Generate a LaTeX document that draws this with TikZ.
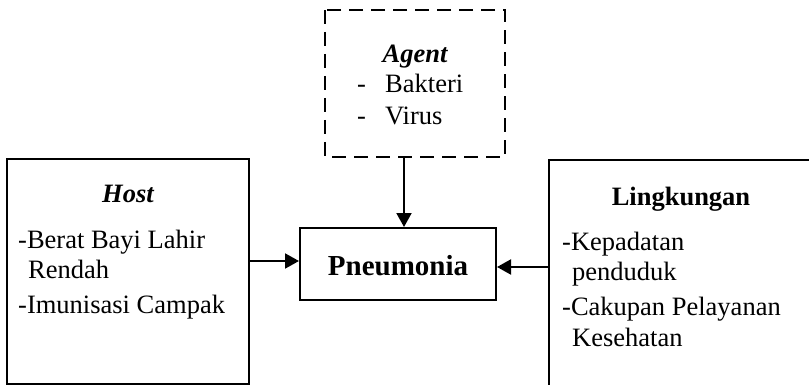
\documentclass[tikz,border=0pt]{standalone}
\usepackage{fontspec}
\setmainfont{Liberation Serif}
\usetikzlibrary{arrows.meta}
\begin{document}
\begin{tikzpicture}[x=1pt,y=-1pt,
  frame/.style={draw=black,line width=2pt,fill=white},
  dframe/.style={draw=black,line width=2pt,dash pattern=on 14pt off 8pt},
  arr/.style={line width=2pt,-{Triangle[length=14pt,width=15pt]}},
  txt/.style={inner sep=0pt,anchor=base west,font=\fontsize{26.5}{30}\selectfont},
  ttl/.style={inner sep=0pt,anchor=base,font=\fontsize{26.5}{30}\selectfont\bfseries},
]
\useasboundingbox (0,0) rectangle (809,385);
\clip (0,0) rectangle (809,385);
% boxes
\draw[frame] (7,159) rectangle (249,384);
\node[inner sep=0pt] (host) at (128,271.5) [minimum width=242pt,minimum height=225pt] {};
\draw[frame] (549,160) rectangle (830,400);
\node[inner sep=0pt] (ling) at (689.5,280) [minimum width=281pt,minimum height=240pt] {};
\draw[dframe] (325,10) rectangle (505,157);
\node[inner sep=0pt] (agent) at (415,83.5) [minimum width=180pt,minimum height=147pt] {};
\node[draw=black,line width=2pt,inner sep=0pt,minimum width=196pt,minimum height=72pt] (pn) at (398,264) {};
\node[inner sep=0pt,anchor=base,font=\fontsize{29}{32}\selectfont\bfseries] (pntext) at (398,275) {Pneumonia};
% host text
\node[ttl,font=\fontsize{26.5}{30}\selectfont\bfseries\itshape] (hosttitle) at (128,203) {Host};
\node[txt] (h1) at (18,248) {-Berat Bayi Lahir};
\node[txt] (h2) at (28,278) {Rendah};
\node[txt] (h3) at (18,313) {-Imunisasi Campak};
% lingkungan text
\node[ttl] (lingtitle) at (681,205) {Lingkungan};
\node[txt] (l1) at (562,250) {-Kepadatan};
\node[txt] (l2) at (572,280) {penduduk};
\node[txt] (l3) at (562,315) {-Cakupan Pelayanan};
\node[txt] (l4) at (572,346) {Kesehatan};
% agent text
\node[ttl,font=\fontsize{26.5}{30}\selectfont\bfseries\itshape] (agenttitle) at (415,63) {Agent};
\node[txt] (a1d) at (357,93) {-};
\node[txt] (a1) at (385,93) {Bakteri};
\node[txt] (a2d) at (357,125) {-};
\node[txt] (a2) at (385,125) {Virus};
% arrows
\coordinate (atop) at (404,157);
\draw[arr] (atop) -- (atop |- pn.north);
\coordinate (hstart) at (249,261);
\draw[arr] (hstart) -- (hstart -| pn.west);
\coordinate (lstart) at (549,267);
\draw[arr] (lstart) -- (lstart -| pn.east);
\end{tikzpicture}
\end{document}
